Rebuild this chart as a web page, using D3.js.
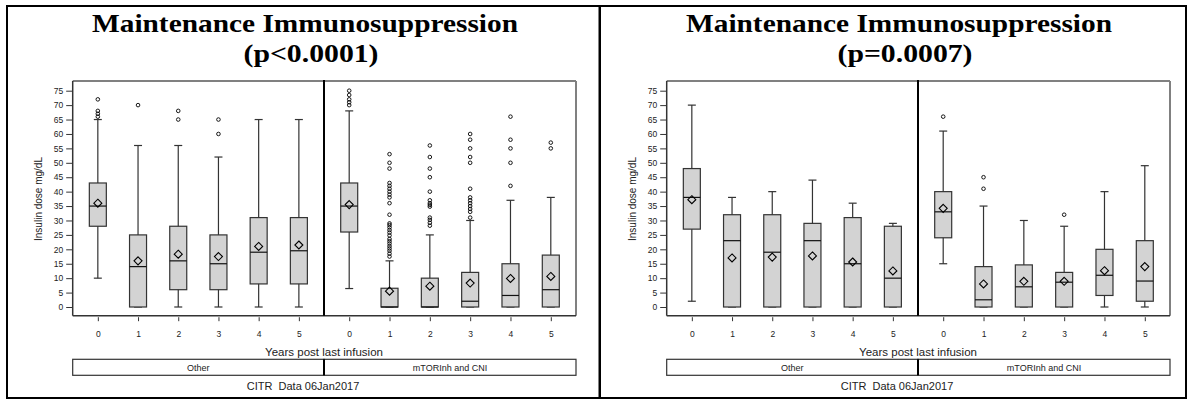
<!DOCTYPE html>
<html><head><meta charset="utf-8">
<script src="https://cdn.jsdelivr.net/npm/d3@7"></script>
<style>body{margin:0;background:#fff}svg{display:block}</style>
</head><body>
<svg id="c" width="1188" height="400"></svg>
<script>
const years = [0,1,2,3,4,5];
const groups = ["Other","mTORInh and CNI"];
const yTicks = [0,5,10,15,20,25,30,35,40,45,50,55,60,65,70,75];
const titleLine1 = "Maintenance Immunosuppression";
const panelPvalues = ["(p<0.0001)","(p=0.0007)"];
const xTitle = "Years post last infusion";
const yTitle = "Insulin dose mg/dL";
const footnote = "CITR  Data 06Jan2017";

// Panel 1 (p<0.0001)
const p1OtherMin    = [10,0,0,0,0,0];
const p1OtherQ1     = [28,0,6,6,8,8];
const p1OtherMedian = [35,14,16,15,19,19.5];
const p1OtherQ3     = [43,25,28,25,31,31];
const p1OtherMax    = [65,56,56,52,65,65];
const p1OtherMean   = [36,16,18.3,17.5,21,21.5];
const p1OtherOut    = [[72,68,67,66],[70],[68,65],[65,60],[],[]];

const p1MtorMin    = [6.4,0,0,0,0,0];
const p1MtorQ1     = [26,0,0,0,0,0];
const p1MtorMedian = [35,0,0,2,4,6];
const p1MtorQ3     = [43,6.5,10,12,15,18];
const p1MtorMax    = [68,16,25,30,37,38];
const p1MtorMean   = [35.5,5.5,7.2,8.3,9.9,10.6];
const p1MtorOut    = [
  [75,73.5,72,71,70],
  [53,50,48,43,42,41,40,39,38,36,32,29,28.4,27.6,26.7,25.8,24.8,23.6,22.8,22,21.1,20.3,19.5,18.5,17.5],
  [56,52,48,45,40,37,36,35.4,34.8,31,30.2,29.2,28.2],
  [60,58,55,52,50,41,38,37,36,35,34,33,31],
  [66,58,55,50,42],
  [57,55]
];

// Panel 2 (p=0.0007)
const p2OtherMin    = [2,0,0,0,0,0];
const p2OtherQ1     = [27,0,0,0,0,0];
const p2OtherMedian = [38,23,19,23,15,10];
const p2OtherQ3     = [48,32,32,29,31,28];
const p2OtherMax    = [70,38,40,44,36,29];
const p2OtherMean   = [37.2,17,17.3,17.7,15.6,12.5];
const p2OtherOut    = [[],[],[],[],[],[]];

const p2MtorMin    = [15,0,0,0,0,0];
const p2MtorQ1     = [24,0,0,0,4,2];
const p2MtorMedian = [33,2.5,7,8.6,11,9];
const p2MtorQ3     = [40,14,14.6,12,20,23];
const p2MtorMax    = [61,35,30,28,40,49];
const p2MtorMean   = [34.2,8,8.9,8.9,12.6,14];
const p2MtorOut    = [[66],[45,41],[],[32],[],[]];

const panels = [
  [ {min:p1OtherMin,q1:p1OtherQ1,med:p1OtherMedian,q3:p1OtherQ3,max:p1OtherMax,mean:p1OtherMean,out:p1OtherOut},
    {min:p1MtorMin,q1:p1MtorQ1,med:p1MtorMedian,q3:p1MtorQ3,max:p1MtorMax,mean:p1MtorMean,out:p1MtorOut} ],
  [ {min:p2OtherMin,q1:p2OtherQ1,med:p2OtherMedian,q3:p2OtherQ3,max:p2OtherMax,mean:p2OtherMean,out:p2OtherOut},
    {min:p2MtorMin,q1:p2MtorQ1,med:p2MtorMedian,q3:p2MtorQ3,max:p2MtorMax,mean:p2MtorMean,out:p2MtorOut} ]
];

const svg = d3.select("#c");
const SANS = "'Liberation Sans', Arial, sans-serif";
const SERIF = "'Liberation Serif', 'Times New Roman', serif";
const plotL = 72.7, plotR = 576, plotT = 81, plotB = 315.7, mid = 324, panelMid = 305;
const y = d3.scaleLinear().domain([0,75]).range([307,90.7]);
const halfBox = 8.5, halfCap = 4;

// outer frames
svg.append("rect").attr("x",7).attr("y",6).attr("width",592.5).attr("height",392)
  .attr("fill","none").attr("stroke","#000").attr("stroke-width",2);
svg.append("rect").attr("x",600).attr("y",6).attr("width",586).attr("height",392)
  .attr("fill","none").attr("stroke","#000").attr("stroke-width",2);

panels.forEach((panel, pi) => {
  const ox = pi * 594;
  const g = svg.append("g").attr("transform", `translate(${ox},0)`);

  // titles
  g.append("text").attr("x", panelMid).attr("y", 31.5).attr("text-anchor","middle")
    .attr("font-family", SERIF).attr("font-weight","bold").attr("font-size", 26)
    .attr("textLength", 426).attr("lengthAdjust","spacingAndGlyphs").text(titleLine1);
  g.append("text").attr("x", panelMid + 6).attr("y", 61.5).attr("text-anchor","middle")
    .attr("font-family", SERIF).attr("font-weight","bold").attr("font-size", 26)
    .attr("textLength", 135).attr("lengthAdjust","spacingAndGlyphs").text(panelPvalues[pi]);

  // plot frame
  g.append("line").attr("x1",plotL).attr("x2",plotR).attr("y1",plotT).attr("y2",plotT).attr("stroke","#808080").attr("stroke-width",2);
  g.append("line").attr("x1",plotR).attr("x2",plotR).attr("y1",plotT).attr("y2",plotB).attr("stroke","#808080").attr("stroke-width",2);
  g.append("line").attr("x1",plotL).attr("x2",plotR).attr("y1",plotB).attr("y2",plotB).attr("stroke","#333").attr("stroke-width",1.5);
  g.append("line").attr("x1",plotL).attr("x2",plotL).attr("y1",plotT).attr("y2",plotB).attr("stroke","#333").attr("stroke-width",1.5);
  g.append("line").attr("x1",mid).attr("x2",mid).attr("y1",plotT-1).attr("y2",plotB).attr("stroke","#000").attr("stroke-width",2);

  // y axis
  const ya = g.append("g").attr("transform", `translate(${plotL-0.5},0)`)
    .call(d3.axisLeft(y).tickValues(yTicks).tickSize(6).tickPadding(3));
  ya.select(".domain").remove();
  ya.selectAll("line").attr("stroke","#333");
  ya.selectAll("text").attr("font-family",SANS).attr("font-size",8.5).attr("fill","#222");

  g.append("text").attr("transform", `translate(42,199) rotate(-90)`).attr("text-anchor","middle")
    .attr("font-family",SANS).attr("font-size",10).attr("fill","#222").text(yTitle);

  panel.forEach((d, gi) => {
    const x = d3.scalePoint().domain(years).range(gi===0 ? [plotL, mid] : [mid, plotR]).padding(0.625);
    const xa = g.append("g").attr("transform", `translate(0,${plotB+1.5})`)
      .call(d3.axisBottom(x).tickSize(4).tickPadding(3));
    xa.select(".domain").remove();
    xa.selectAll("line").attr("stroke","#333");
    xa.selectAll("text").attr("font-family",SANS).attr("font-size",8.5).attr("fill","#222")
      .attr("y",19.5).attr("dy",0);

    const bx = g.append("g");
    years.forEach((yr, i) => {
      const cx = x(yr);
      bx.append("line").attr("x1",cx).attr("x2",cx).attr("y1",y(d.min[i])).attr("y2",y(d.max[i]))
        .attr("stroke","#333").attr("stroke-width",1.2);
      [d.min[i], d.max[i]].forEach(v => {
        bx.append("line").attr("x1",cx-halfCap).attr("x2",cx+halfCap).attr("y1",y(v)).attr("y2",y(v))
          .attr("stroke","#333").attr("stroke-width",1.2);
      });
      bx.append("rect").attr("x",cx-halfBox).attr("width",2*halfBox)
        .attr("y",y(d.q3[i])).attr("height",Math.max(0.5,y(d.q1[i])-y(d.q3[i])))
        .attr("fill","#d3d3d3").attr("stroke","#333").attr("stroke-width",1.2);
      bx.append("line").attr("x1",cx-halfBox).attr("x2",cx+halfBox).attr("y1",y(d.med[i])).attr("y2",y(d.med[i]))
        .attr("stroke","#111").attr("stroke-width",1.2);
      const my = y(d.mean[i]), r = 4;
      bx.append("path").attr("d",`M${cx},${my-r}L${cx+r},${my}L${cx},${my+r}L${cx-r},${my}Z`)
        .attr("fill","none").attr("stroke","#000").attr("stroke-width",1.1);
      d.out[i].forEach(v => {
        bx.append("circle").attr("cx",cx).attr("cy",y(v)).attr("r",1.8)
          .attr("fill","none").attr("stroke","#000").attr("stroke-width",0.9);
      });
    });

    // group band
    const [b0,b1] = x.range();
    g.append("rect").attr("x",b0).attr("y",359.3).attr("width",b1-b0).attr("height",16)
      .attr("fill","none").attr("stroke","#333").attr("stroke-width",1.2);
    g.append("text").attr("x",(b0+b1)/2).attr("y",370.5).attr("text-anchor","middle")
      .attr("font-family",SANS).attr("font-size",9).attr("fill","#222").text(groups[gi]);
  });
  g.append("line").attr("x1",mid).attr("x2",mid).attr("y1",359.3).attr("y2",375.3).attr("stroke","#000").attr("stroke-width",2);

  g.append("text").attr("x",mid).attr("y",356).attr("text-anchor","middle")
    .attr("font-family",SANS).attr("font-size",11.5).attr("fill","#222").text(xTitle);
  g.append("text").attr("x",panelMid-2).attr("y",390).attr("text-anchor","middle")
    .attr("font-family",SANS).attr("font-size",11).attr("fill","#222")
    .style("white-space","pre").text(footnote);
});
</script>
</body></html>
